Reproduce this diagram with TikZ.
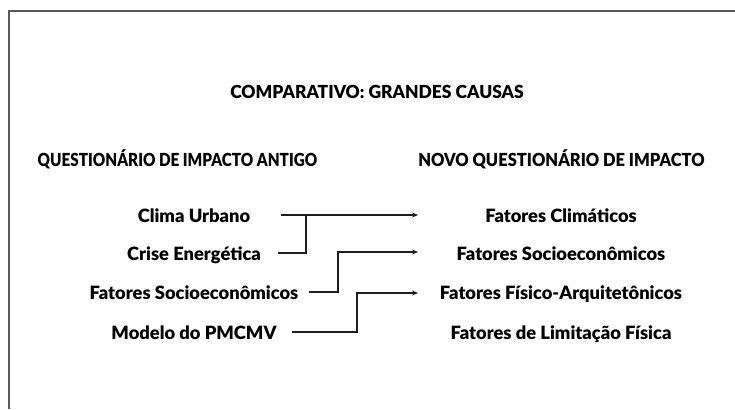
\documentclass[tikz,border=0pt]{standalone}
\usepackage{fontspec}
\setmainfont{Lato}
\newfontfamily\headfont[FakeStretch=0.85]{Lato Black}
\newfontfamily\headwidefont[FakeStretch=0.915]{Lato Black}
\newfontfamily\titlefont[FakeStretch=0.97]{Lato Black}
\newfontfamily\itemfont{Lato Black}
\usetikzlibrary{arrows.meta}

\begin{document}
\begin{tikzpicture}[x=1pt, y=-1pt,
    heading/.style={anchor=base, inner sep=0pt, font=\headfont\fontsize{18}{18}\selectfont},
    item/.style={anchor=base, inner sep=0pt, font=\itemfont\fontsize{18.3}{19}\selectfont},
    link/.style={line width=1.3pt, draw=linegray},
    arrowlink/.style={link, -{Stealth[length=6pt, width=5pt]}}]
    % Colours of the original
    \definecolor{framegray}{RGB}{90, 90, 90}
    \definecolor{linegray}{RGB}{30, 30, 30}

    % Page size and the open frame (top and left only)
    \useasboundingbox (0,0) rectangle (735,409);
    \draw[framegray, line width=2pt] (735,11) -- (8.5,11) -- (8.5,409);

    % Title and column headings
    \node[heading, font=\titlefont\fontsize{18}{18}\selectfont] (title) at (377,99) {COMPARATIVO: GRANDES CAUSAS};
    \node[heading] (oldq) at (177.5,166) {QUESTIONÁRIO DE IMPACTO ANTIGO};
    \node[heading, font=\headwidefont\fontsize{18}{18}\selectfont] (newq) at (561.5,166) {NOVO QUESTIONÁRIO DE IMPACTO};

    % Old questionnaire causes
    \node[item] (clima) at (194,222) {Clima Urbano};
    \node[item] (crise) at (194,260) {Crise Energética};
    \node[item] (socio) at (194,299) {Fatores Socioeconômicos};
    \node[item] (modelo) at (194,339) {Modelo do PMCMV};

    % New questionnaire causes
    \node[item] (climatico) at (561,222) {Fatores Climáticos};
    \node[item] (socionovo) at (561,260) {Fatores Socioeconômicos};
    \node[item] (fisico) at (561,299) {Fatores Físico-Arquitetônicos};
    \node[item] (limitacao) at (561,339) {Fatores de Limitação Física};

    % Arrow tips in front of the new causes
    \coordinate (tipA) at (418,215);
    \coordinate (tipB) at (418,252);
    \coordinate (tipC) at (418,293);

    % Connectors
    \draw[arrowlink] ([xshift=31pt]clima.east |- tipA) -- (tipA);
    \draw[link] ([xshift=17pt]crise.east |- 0,253) -- (306,253) -- (306,215);
    \draw[arrowlink] ([xshift=10pt]socio.east |- 0,292) -- (338,292) -- (338,252) -- (tipB);
    \draw[arrowlink] ([xshift=15pt]modelo.east |- 0,332) -- (357,332) -- (357,293) -- (tipC);

\end{tikzpicture}
\end{document}
